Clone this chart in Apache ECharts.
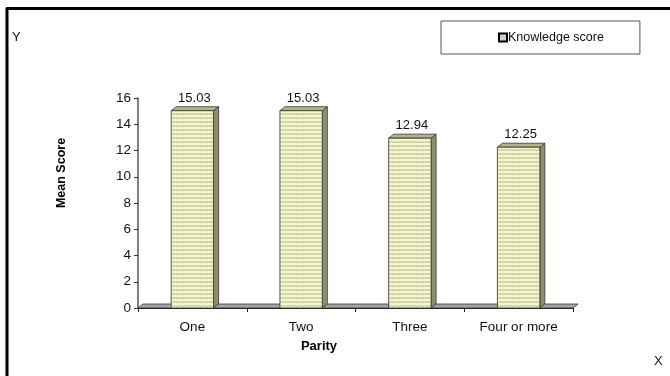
<!DOCTYPE html>
<html><head><meta charset="utf-8">
<script src="https://cdn.jsdelivr.net/npm/echarts@6/dist/echarts.min.js"></script>
<style>html,body{margin:0;padding:0;background:#fff}#c{width:670px;height:376px}</style>
</head><body><div id="c"></div>
<script>
var categories = ['One', 'Two', 'Three', 'Four or more'];
var knowledgeScore = [15.03, 15.03, 12.94, 12.25];
var yTicks = [0, 2, 4, 6, 8, 10, 12, 14, 16];
var seriesName = 'Knowledge score';

// zigzag pattern
var pc = document.createElement('canvas');
pc.width = 6; pc.height = 4;
var g = pc.getContext('2d');
g.fillStyle = '#f4f4d6'; g.fillRect(0, 0, 6, 4);
g.strokeStyle = '#c0c080'; g.lineWidth = 1;
g.beginPath(); g.moveTo(0, 3); g.lineTo(1.5, 1); g.lineTo(3, 3); g.lineTo(4.5, 1); g.lineTo(6, 3); g.stroke();
var pattern = { image: pc, repeat: 'repeat' };

var DX = 5, DY = 4;
var chart = echarts.init(document.getElementById('c'), null, { renderer: 'canvas' });
var font = 'Liberation Sans, Arial, sans-serif';

function renderBar(params, api) {
  var idx = api.value(0), val = api.value(1);
  var top = api.coord([idx, val]);
  var base = api.coord([idx, 0]);
  var w = api.size([1, 0])[0] * 0.39;
  var x0 = top[0] - w / 2, x1 = top[0] + w / 2;
  var y0 = top[1], y1 = base[1];
  return {
    type: 'group',
    children: [
      { type: 'polygon', shape: { points: [[x1, y0], [x1 + DX, y0 - DY], [x1 + DX, y1 - DY], [x1, y1]] },
        style: { fill: '#8f8f70', stroke: '#333', lineWidth: 0.8 } },
      { type: 'polygon', shape: { points: [[x0, y0], [x0 + DX, y0 - DY], [x1 + DX, y0 - DY], [x1, y0]] },
        style: { fill: '#b4b48c', stroke: '#333', lineWidth: 0.8 } },
      { type: 'rect', shape: { x: x0, y: y0, width: w, height: y1 - y0 },
        style: { fill: pattern, stroke: '#333', lineWidth: 0.8 } },
      { type: 'text', x: top[0] + 2, y: y0 - DY - 2,
        style: { text: String(val.toFixed(2)), fill: '#111', font: '13px ' + font, textAlign: 'center', textVerticalAlign: 'bottom' } }
    ]
  };
}

function renderFloor(params, api) {
  var cs = params.coordSys;
  var yb = cs.y + cs.height;
  var xl = cs.x, xr = cs.x + cs.width;
  return {
    type: 'polygon',
    z2: -1,
    shape: { points: [[xl, yb], [xl + DX, yb - DY], [xr + DX, yb - DY], [xr, yb]] },
    style: { fill: '#a6a6a6', stroke: '#333', lineWidth: 0.8 }
  };
}

var barData = categories.map(function (c, i) { return [i, knowledgeScore[i]]; });

chart.setOption({
  animation: false,
  grid: { left: 138, right: 97, top: 98, bottom: 68 },
  legend: {
    data: [{ name: seriesName, icon: 'rect', itemStyle: { color: '#cfcfcf', borderColor: '#000', borderWidth: 2 } }],
    left: 441, top: 21,
    padding: [10, 36, 10, 57],
    itemWidth: 8, itemHeight: 8, itemGap: 2,
    borderColor: '#555', borderWidth: 1,
    textStyle: { fontFamily: font, fontSize: 12.5, color: '#111', padding: [0, 0, 0, -4] },
    selectedMode: false
  },
  xAxis: {
    type: 'category', data: categories,
    axisLine: { lineStyle: { color: '#222', width: 1 } },
    axisTick: { show: true, length: 4, lineStyle: { color: '#222' } },
    axisLabel: { fontFamily: font, fontSize: 13.5, color: '#111', margin: 12 }
  },
  yAxis: {
    type: 'value', min: yTicks[0], max: yTicks[yTicks.length - 1], interval: 2,
    axisLine: { show: true, lineStyle: { color: '#555', width: 1.5 } },
    axisTick: { show: true, length: 4, lineStyle: { color: '#333' } },
    splitLine: { show: false },
    axisLabel: { fontFamily: font, fontSize: 13.5, color: '#111', margin: 7 }
  },
  series: [
    { type: 'custom', name: '_floor', renderItem: renderFloor, data: [[0, 0]], z: 1, silent: true },
    { type: 'custom', name: seriesName, renderItem: renderBar, data: barData, z: 2,
      itemStyle: { color: '#cfcfcf' }, encode: { x: 0, y: 1 } }
  ],
  graphic: [
    { type: 'line', shape: { x1: 6, y1: 8.5, x2: 670, y2: 8.5 }, style: { stroke: '#000', lineWidth: 3 } },
    { type: 'line', shape: { x1: 7, y1: 8, x2: 7, y2: 376 }, style: { stroke: '#000', lineWidth: 3 } },
    { type: 'text', left: 12, top: 31, style: { text: 'Y', font: '13px ' + font, fill: '#111' } },
    { type: 'text', left: 654, top: 355, style: { text: 'X', font: '13px ' + font, fill: '#111' } },
    { type: 'text', x: 62, y: 173, rotation: Math.PI / 2,
      style: { text: 'Mean Score', font: 'bold 12.5px ' + font, fill: '#000', textAlign: 'center', textVerticalAlign: 'middle' } },
    { type: 'text', x: 319, y: 346,
      style: { text: 'Parity', font: 'bold 13px ' + font, fill: '#000', textAlign: 'center', textVerticalAlign: 'middle' } }
  ]
});
</script></body></html>
